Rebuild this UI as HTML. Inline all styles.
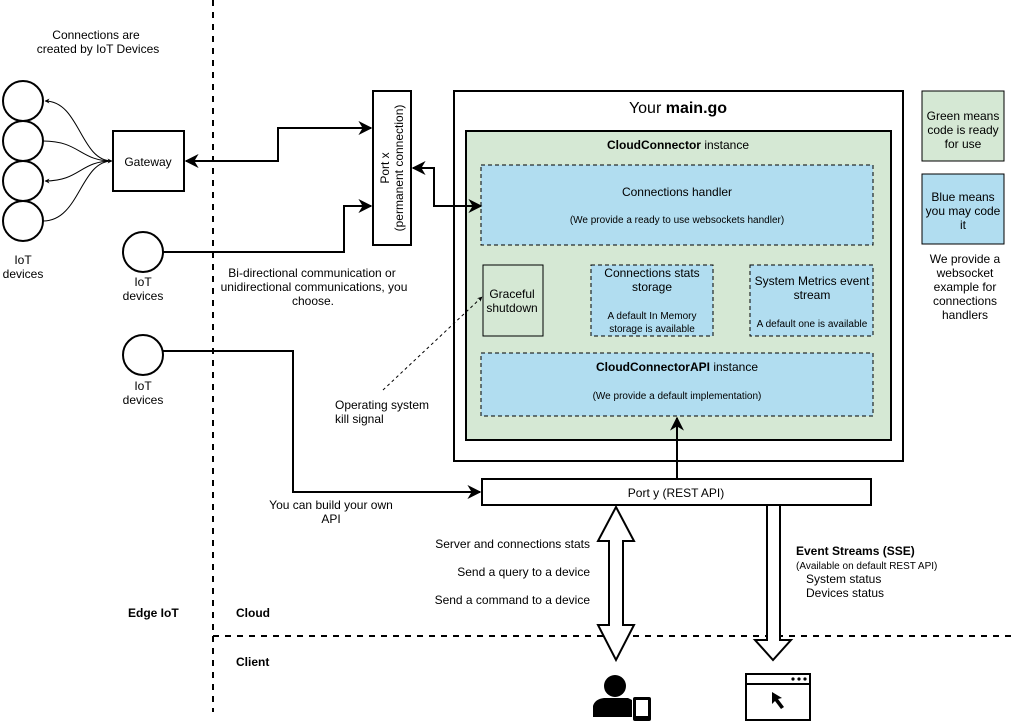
<!DOCTYPE html>
<html><head><meta charset="utf-8"><style>body{margin:0;background:#fff}svg{display:block}text{font-family:"Liberation Sans",sans-serif;fill:#000}</style></head><body>
<svg width="1016" height="728" viewBox="0 0 1016 728" xmlns="http://www.w3.org/2000/svg">
<defs>
<marker id="a" viewBox="0 0 10 10" refX="9" refY="5" markerWidth="7" markerHeight="7" orient="auto-start-reverse"><path d="M0,0 L10,5 L0,10 L3,5z" fill="#000"/></marker>
<marker id="s" viewBox="0 0 10 10" refX="9" refY="5" markerWidth="5" markerHeight="5" orient="auto-start-reverse"><path d="M0,0 L10,5 L0,10 L3,5z" fill="#000"/></marker>
</defs>
<g stroke="#000" stroke-width="2" stroke-dasharray="6,6" fill="none">
<line x1="213" y1="0" x2="213" y2="712"/>
<line x1="213" y1="636" x2="1016" y2="636"/>
</g>
<text x="96" y="39" font-size="12" text-anchor="middle">Connections are</text>
<text x="98" y="53" font-size="12" text-anchor="middle">created by IoT Devices</text>
<g fill="#fff" stroke="#000" stroke-width="2">
<circle cx="23" cy="101" r="20"/><circle cx="23" cy="141" r="20"/><circle cx="23" cy="181" r="20"/><circle cx="23" cy="221" r="20"/>
<circle cx="143" cy="252" r="20"/><circle cx="143" cy="355" r="20"/>
</g>
<g font-size="12" text-anchor="middle">
<text x="23" y="264">IoT</text><text x="23" y="278">devices</text>
<text x="143" y="286">IoT</text><text x="143" y="300">devices</text>
<text x="143" y="390">IoT</text><text x="143" y="404">devices</text>
</g>
<g stroke="#000" stroke-width="1" fill="none">
<path d="M112,161 C80,161 80,101 45,101" marker-start="url(#s)" marker-end="url(#s)"/>
<path d="M112,161 C80,161 80,141 43,141"/>
<path d="M112,161 C80,161 80,181 45,181" marker-end="url(#s)"/>
<path d="M112,161 C80,161 80,221 43,221"/>
</g>
<rect x="113" y="131" width="71" height="60" fill="#fff" stroke="#000" stroke-width="2"/>
<text x="148" y="166" font-size="12" text-anchor="middle">Gateway</text>
<g stroke="#000" stroke-width="2" fill="none">
<path d="M186,161 L278,161 L278,128 L371,128" marker-start="url(#a)" marker-end="url(#a)"/>
<path d="M163,252 L344,252 L344,206 L371,206" marker-end="url(#a)"/>
<path d="M163,351 L293,351 L293,492 L480,492" marker-end="url(#a)"/>
</g>
<rect x="373" y="91" width="38" height="154" fill="#fff" stroke="#000" stroke-width="2"/>
<text transform="translate(389,168) rotate(-90)" font-size="12" text-anchor="middle">Port x</text>
<text transform="translate(403,168) rotate(-90)" font-size="12" text-anchor="middle">(permanent connection)</text>
<g font-size="12" text-anchor="middle">
<text x="312" y="277">Bi-directional communication or</text>
<text x="314" y="291">unidirectional communications, you</text>
<text x="313" y="305">choose.</text>
<text x="331" y="509">You can build your own</text>
<text x="331" y="523">API</text>
</g>
<text x="335" y="409" font-size="12">Operating system</text>
<text x="335" y="423" font-size="12">kill signal</text>
<rect x="454" y="91" width="449" height="370" fill="#fff" stroke="#000" stroke-width="2"/>
<text x="678" y="113" font-size="16" text-anchor="middle">Your <tspan font-weight="bold">main.go</tspan></text>
<rect x="466" y="131" width="425" height="309" fill="#d5e8d4" stroke="#000" stroke-width="2"/>
<text x="678" y="149" font-size="12" text-anchor="middle"><tspan font-weight="bold">CloudConnector</tspan> instance</text>
<g fill="#b1ddf0" stroke="#000" stroke-dasharray="4,3">
<rect x="481" y="165" width="392" height="80"/>
<rect x="591" y="265" width="122" height="71"/>
<rect x="750" y="265" width="123" height="71"/>
<rect x="481" y="353" width="392" height="63"/>
</g>
<rect x="483" y="265" width="60" height="71" fill="#d5e8d4" stroke="#000"/>
<g text-anchor="middle">
<text x="677" y="196" font-size="12">Connections handler</text>
<text x="677" y="223" font-size="10">(We provide a ready to use websockets handler)</text>
<text x="512" y="298" font-size="12">Graceful</text>
<text x="512" y="312" font-size="12">shutdown</text>
<text x="652" y="277" font-size="12">Connections stats</text>
<text x="652" y="291" font-size="12">storage</text>
<text x="652" y="319" font-size="10">A default In Memory</text>
<text x="652" y="332" font-size="10">storage is available</text>
<text x="812" y="285" font-size="12">System Metrics event</text>
<text x="812" y="299" font-size="12">stream</text>
<text x="812" y="327" font-size="10">A default one is available</text>
<text x="677" y="371" font-size="12"><tspan font-weight="bold">CloudConnectorAPI</tspan> instance</text>
<text x="677" y="399" font-size="10">(We provide a default implementation)</text>
</g>
<g stroke="#000" stroke-width="2" fill="none">
<path d="M413,168 L434,168 L434,206 L481,206" marker-start="url(#a)" marker-end="url(#a)"/>
<path d="M677,479 L677,418" marker-end="url(#a)"/>
</g>
<path d="M383,390 L482,297" stroke="#000" stroke-dasharray="3,3" fill="none" marker-end="url(#s)"/>
<rect x="482" y="479" width="389" height="26" fill="#fff" stroke="#000" stroke-width="2"/>
<text x="676" y="497" font-size="12" text-anchor="middle">Port y (REST API)</text>
<rect x="922" y="91" width="82" height="70" fill="#d5e8d4" stroke="#000"/>
<rect x="922" y="174" width="82" height="70" fill="#b1ddf0" stroke="#000"/>
<g font-size="12" text-anchor="middle">
<text x="963" y="120">Green means</text><text x="963" y="134">code is ready</text><text x="963" y="148">for use</text>
<text x="963" y="201">Blue means</text><text x="963" y="215">you may code</text><text x="963" y="229">it</text>
<text x="965" y="263">We provide a</text><text x="965" y="277">websocket</text><text x="965" y="291">example for</text><text x="965" y="305">connections</text><text x="965" y="319">handlers</text>
</g>
<path d="M616,507 L634,541 L623,541 L623,625 L634,625 L616,660 L598,625 L609,625 L609,541 L598,541 Z" fill="#fff" stroke="#000" stroke-width="2"/>
<path d="M767,505 L780,505 L780,640 L791,640 L773,660 L755,640 L767,640 Z" fill="#fff" stroke="#000" stroke-width="2"/>
<g font-size="12" text-anchor="end">
<text x="590" y="548">Server and connections stats</text>
<text x="590" y="576">Send a query to a device</text>
<text x="590" y="604">Send a command to a device</text>
</g>
<text x="796" y="555" font-size="12" font-weight="bold">Event Streams (SSE)</text>
<text x="796" y="569" font-size="10">(Available on default REST API)</text>
<text x="806" y="583" font-size="12">System status</text>
<text x="806" y="597" font-size="12">Devices status</text>
<text x="128" y="617" font-size="12" font-weight="bold">Edge IoT</text>
<text x="236" y="617" font-size="12" font-weight="bold">Cloud</text>
<text x="236" y="666" font-size="12" font-weight="bold">Client</text>
<circle cx="615" cy="686" r="11" fill="#000"/>
<path d="M593,717 L593,706 Q595,699 604,698 L628,698 L632,700 L632,717 Z" fill="#000"/>
<rect x="633" y="697" width="18" height="24" rx="2" fill="#000"/>
<rect x="636" y="700" width="12" height="16" fill="#fff"/>
<rect x="746" y="674" width="64" height="46" fill="#fff" stroke="#000" stroke-width="2"/>
<line x1="746" y1="684" x2="810" y2="684" stroke="#000" stroke-width="2"/>
<circle cx="793" cy="679" r="1.6"/><circle cx="799" cy="679" r="1.6"/><circle cx="805" cy="679" r="1.6"/>
<path d="M772,692 L772,704 L775,701 L781,709 L784,707 L778,699 L782,698 Z" fill="#000"/>
</svg>
</body></html>
